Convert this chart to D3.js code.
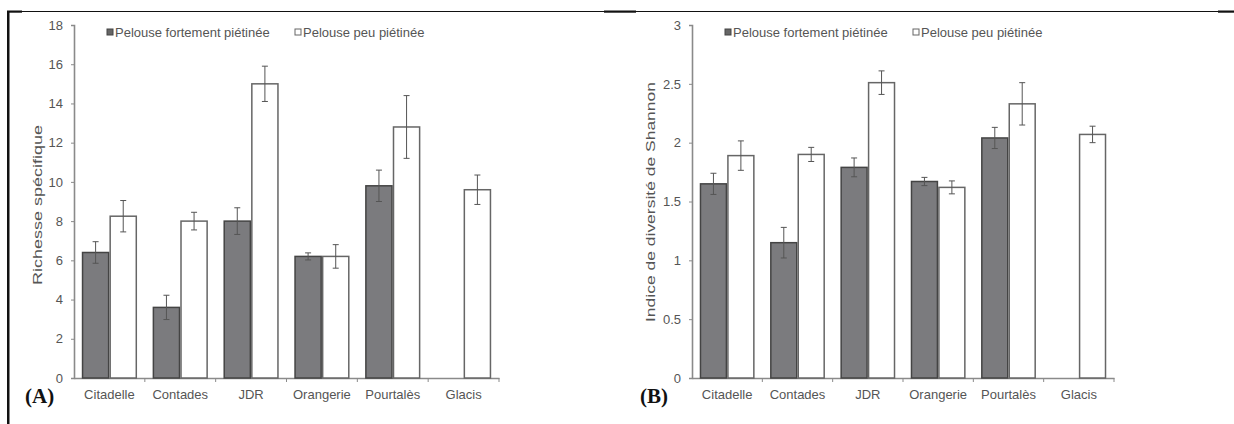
<!DOCTYPE html>
<html><head><meta charset="utf-8">
<script src="https://cdn.jsdelivr.net/npm/d3@7"></script>
<style>body{margin:0;background:#fff}svg{display:block}</style>
</head><body>
<svg id="c" width="1234" height="424"></svg>
<script>
const categories = ["Citadelle","Contades","JDR","Orangerie","Pourtalès","Glacis"];
const seriesNames = ["Pelouse fortement piétinée","Pelouse peu piétinée"];
// Panel A: species richness
const richHigh = [6.4, 3.6, 8.0, 6.2, 9.8, null];
const richHighErr = [0.55, 0.62, 0.68, 0.18, 0.8, null];
const richLow = [8.25, 8.0, 15.0, 6.2, 12.8, 9.6];
const richLowErr = [0.8, 0.45, 0.9, 0.6, 1.6, 0.75];
const richTicks = [0,2,4,6,8,10,12,14,16,18];
// Panel B: Shannon diversity
const shanHigh = [1.65, 1.15, 1.79, 1.67, 2.04, null];
const shanHighErr = [0.09, 0.13, 0.08, 0.035, 0.09, null];
const shanLow = [1.89, 1.90, 2.51, 1.62, 2.33, 2.07];
const shanLowErr = [0.125, 0.06, 0.1, 0.055, 0.18, 0.07];
const shanTicks = [0,0.5,1,1.5,2,2.5,3];

const svg = d3.select("#c");
const txt = "#555";
const font = "'Liberation Sans', Arial, sans-serif";

// frame
svg.append("line").attr("x1",7).attr("x2",1234).attr("y1",11.5).attr("y2",11.5).attr("stroke","#111").attr("stroke-width",1);
[[7,22],[604,636],[1218,1234]].forEach(s=>svg.append("rect").attr("x",s[0]).attr("y",10.5).attr("width",s[1]-s[0]).attr("height",2.2).attr("fill","#111"));
svg.append("rect").attr("x",7).attr("y",11).attr("width",2.5).attr("height",413).attr("fill","#111");

function panel(opts){
  const g = svg.append("g");
  const x = d3.scaleBand().domain(categories).range([opts.x0, opts.x1]).paddingInner(0.22).paddingOuter(0.11);
  const xb = d3.scaleBand().domain(categories).range([opts.x0, opts.x1]);
  const sub = d3.scaleBand().domain([0,1]).range([0, x.bandwidth()]);
  const y = d3.scaleLinear().domain([0, opts.max]).range([378, 25]);
  // y axis
  const ya = d3.axisLeft(y).tickValues(opts.ticks).tickSize(3).tickPadding(8).tickFormat(d=>String(d));
  const yg = g.append("g").attr("transform",`translate(${opts.x0},0)`).call(ya);
  yg.select(".domain").attr("stroke","#8a8a8a").attr("stroke-width",1.6);
  yg.selectAll(".tick line").attr("stroke","#8a8a8a");
  yg.selectAll("text").attr("fill",txt).attr("font-size",13).attr("font-family",font);
  // x axis
  const xa = d3.axisBottom(xb).tickSize(0).tickPadding(12);
  const xg = g.append("g").attr("transform",`translate(0,378)`).call(xa);
  xg.select(".domain").attr("stroke","#8a8a8a").attr("stroke-width",1.6);
  xg.selectAll("text").attr("fill",txt).attr("font-size",13).attr("font-family",font);
  categories.forEach(c=>{
    g.append("line").attr("x1",xb(c)+xb.bandwidth()).attr("x2",xb(c)+xb.bandwidth()).attr("y1",378).attr("y2",382).attr("stroke","#8a8a8a");
  });
  const series = [[opts.high, opts.highErr],[opts.low, opts.lowErr]];
  series.forEach((s,si)=>{
    const data = categories.map((c,i)=>({c, v:s[0][i], e:s[1][i]})).filter(d=>d.v!=null);
    g.selectAll(null).data(data).enter().append("rect")
      .attr("x",d=>x(d.c)+sub(si)+0.75).attr("width",sub.bandwidth()-1.5)
      .attr("y",d=>y(d.v)).attr("height",d=>y(0)-y(d.v))
      .attr("fill", si===0?"#7b7b7e":"#fff")
      .attr("stroke", si===0?"#444":"#666").attr("stroke-width",1.5);
    data.forEach(d=>{
      const cx = x(d.c)+sub(si)+sub.bandwidth()/2;
      const col = "#555";
      g.append("line").attr("x1",cx).attr("x2",cx).attr("y1",y(d.v+d.e)).attr("y2",y(d.v-d.e)).attr("stroke",col).attr("stroke-width",1);
      [d.v+d.e,d.v-d.e].forEach(v=>g.append("line").attr("x1",cx-3).attr("x2",cx+3).attr("y1",y(v)).attr("y2",y(v)).attr("stroke",col).attr("stroke-width",1));
    });
  });
  // legend
  const lg = g.append("g");
  const lx = [opts.x0+33, opts.x0+221];
  seriesNames.forEach((n,i)=>{
    lg.append("rect").attr("x",lx[i]).attr("y",29).attr("width",6).attr("height",6)
      .attr("fill",i===0?"#666":"#fff").attr("stroke",i===0?"#444":"#666").attr("stroke-width",1);
    lg.append("text").attr("x",lx[i]+8).attr("y",36.5).text(n).attr("fill",txt).attr("font-size",13).attr("font-family",font);
  });
  // y label
  g.append("text").attr("transform",`translate(${opts.labelX},${opts.labelY}) rotate(-90)`).attr("text-anchor","middle")
    .attr("textLength",opts.labelLen).attr("lengthAdjust","spacingAndGlyphs")
    .text(opts.label).attr("fill","#555").attr("font-size",12).attr("font-family",font);
  // panel letter
  g.append("text").attr("x",opts.letterX).attr("y",403).text(opts.letter)
    .attr("font-family","'Liberation Serif', 'Times New Roman', serif").attr("font-weight","bold").attr("font-size",21).attr("fill","#111");
}

panel({x0:74,x1:499,max:18,ticks:richTicks,high:richHigh,highErr:richHighErr,low:richLow,lowErr:richLowErr,
  label:"Richesse spécifique",labelX:42,labelY:205,labelLen:160,letter:"(A)",letterX:25});
panel({x0:692,x1:1114,max:3,ticks:shanTicks,high:shanHigh,highErr:shanHighErr,low:shanLow,lowErr:shanLowErr,
  label:"Indice de diversité de Shannon",labelX:655,labelY:202,labelLen:240,letter:"(B)",letterX:640});
</script>
</body></html>
